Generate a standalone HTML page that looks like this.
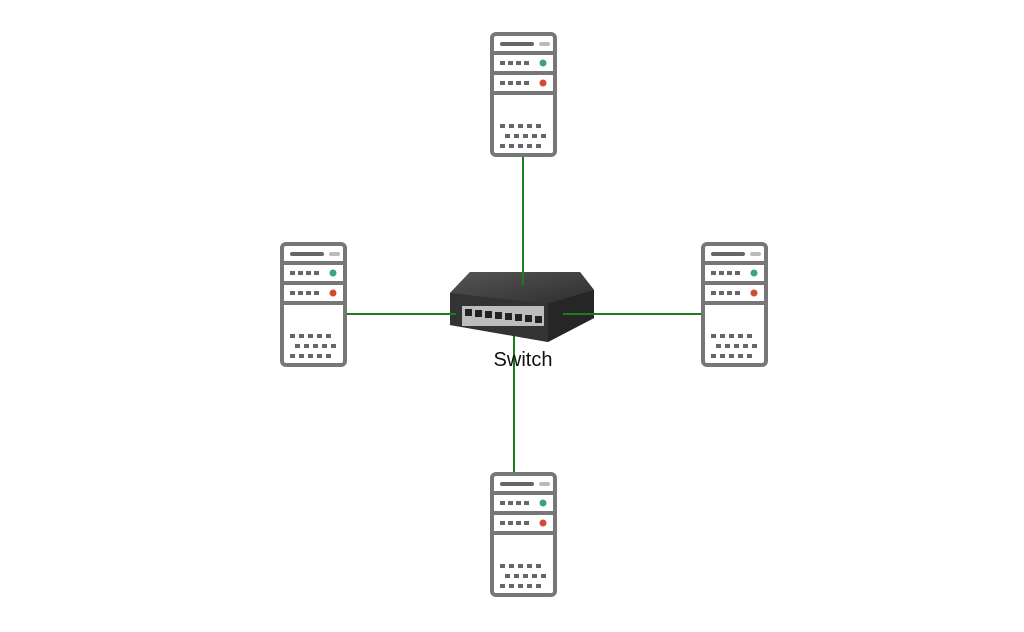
<!DOCTYPE html>
<html><head><style>
html,body{margin:0;padding:0;background:#fff;width:1024px;height:632px;overflow:hidden}
</style></head><body>
<svg width="1024" height="632" viewBox="0 0 1024 632" xmlns="http://www.w3.org/2000/svg">
<defs>
<linearGradient id="top" x1="0" y1="0" x2="1" y2="1">
<stop offset="0" stop-color="#555"/><stop offset="1" stop-color="#2e2e2e"/>
</linearGradient>
<g id="srv">
<rect x="2" y="2" width="63" height="121" rx="4" fill="#fff" stroke="#777" stroke-width="4"/>
<line x1="2" y1="21" x2="65" y2="21" stroke="#777" stroke-width="4"/>
<line x1="2" y1="41" x2="65" y2="41" stroke="#777" stroke-width="4"/>
<line x1="2" y1="61" x2="65" y2="61" stroke="#777" stroke-width="4"/>
<rect x="10" y="10" width="34" height="4" rx="2" fill="#666"/>
<rect x="49" y="10" width="11" height="4" rx="2" fill="#bbb"/>
<g fill="#666">
<rect x="10" y="29" width="5" height="4"/><rect x="18" y="29" width="5" height="4"/><rect x="26" y="29" width="5" height="4"/><rect x="34" y="29" width="5" height="4"/>
<rect x="10" y="49" width="5" height="4"/><rect x="18" y="49" width="5" height="4"/><rect x="26" y="49" width="5" height="4"/><rect x="34" y="49" width="5" height="4"/>
<rect x="10" y="92" width="5" height="4"/><rect x="19" y="92" width="5" height="4"/><rect x="28" y="92" width="5" height="4"/><rect x="37" y="92" width="5" height="4"/><rect x="46" y="92" width="5" height="4"/>
<rect x="15" y="102" width="5" height="4"/><rect x="24" y="102" width="5" height="4"/><rect x="33" y="102" width="5" height="4"/><rect x="42" y="102" width="5" height="4"/><rect x="51" y="102" width="5" height="4"/>
<rect x="10" y="112" width="5" height="4"/><rect x="19" y="112" width="5" height="4"/><rect x="28" y="112" width="5" height="4"/><rect x="37" y="112" width="5" height="4"/><rect x="46" y="112" width="5" height="4"/>
</g>
<circle cx="53" cy="31" r="3.5" fill="#3aa57a"/>
<circle cx="53" cy="51" r="3.5" fill="#d04a35"/>
</g>
</defs>
<g stroke="#1a7f1a" stroke-width="2">
<line x1="523" y1="155" x2="523" y2="285"/>
<line x1="344" y1="314" x2="456" y2="314"/>
<line x1="563" y1="314" x2="704" y2="314"/>
<line x1="514" y1="335" x2="514" y2="473"/>
</g>
<use href="#srv" x="490" y="32"/>
<use href="#srv" x="280" y="242"/>
<use href="#srv" x="701" y="242"/>
<use href="#srv" x="490" y="472"/>
<polygon points="450,293 470,272 580,272 594,290 594,318 548,342 450,325" fill="#2b2b2b"/>
<polygon points="450,293 470,272 580,272 594,290 548,304 465,302" fill="url(#top)"/>
<polygon points="548,304 594,290 594,318 548,342" fill="#262626"/>
<polygon points="450,293 548,304 548,342 450,325" fill="#333"/>
<rect x="462" y="306" width="82" height="20" fill="#bdbdbd"/>
<g fill="#222">
<rect x="465" y="309" width="7" height="7"/><rect x="475" y="310" width="7" height="7"/><rect x="485" y="311" width="7" height="7"/><rect x="495" y="312" width="7" height="7"/><rect x="505" y="313" width="7" height="7"/><rect x="515" y="314" width="7" height="7"/><rect x="525" y="315" width="7" height="7"/><rect x="535" y="316" width="7" height="7"/>
</g>
<line x1="523" y1="272" x2="523" y2="285" stroke="#1a7f1a" stroke-width="2"/>
<line x1="563" y1="314" x2="594" y2="314" stroke="#1a7f1a" stroke-width="2"/>
<line x1="450" y1="314" x2="456" y2="314" stroke="#1a7f1a" stroke-width="2"/>
<text x="523" y="366" font-family="Liberation Sans, sans-serif" font-size="20" text-anchor="middle" fill="#111">Switch</text>
</svg>
</body></html>
